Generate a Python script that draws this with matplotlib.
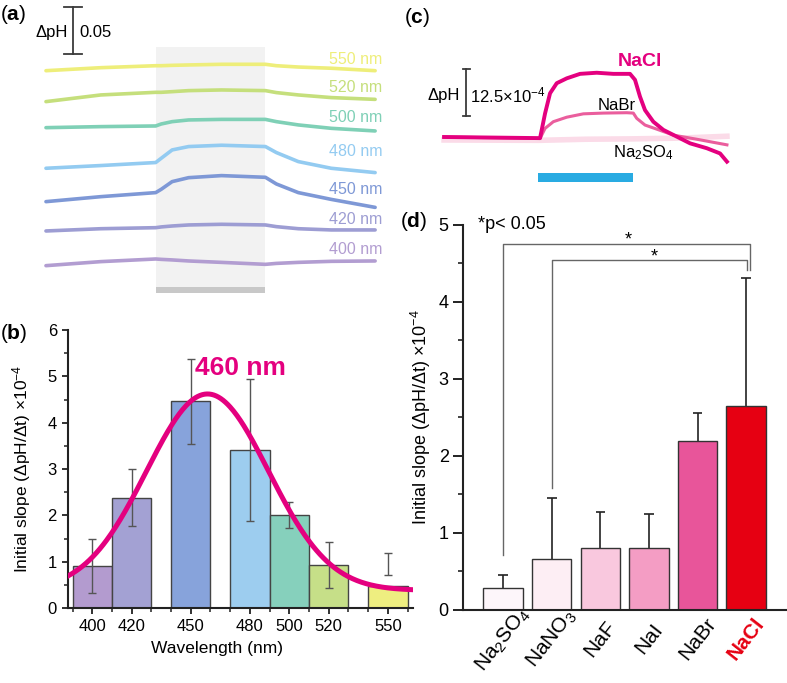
import matplotlib.pyplot as plt
from matplotlib.patches import Rectangle
from matplotlib.ticker import MultipleLocator
from matplotlib.transforms import ScaledTranslation
import numpy as np

plt.rcParams['font.family'] = ['Liberation Sans', 'DejaVu Sans']
plt.rcParams['mathtext.fontset'] = 'custom'
plt.rcParams['mathtext.rm'] = 'Liberation Sans'
plt.rcParams['mathtext.it'] = 'Liberation Sans:italic'
plt.rcParams['mathtext.bf'] = 'Liberation Sans:bold'

# ---- (a) pH change under light of each wavelength (light on 100-200 s)
t_a = [0, 50, 100, 105, 115, 130, 160, 200, 210, 230, 260, 300]
trace_nm = ['550', '520', '500', '480', '450', '420', '400']
trace_colors = ['#EEEE7A', '#C5DF7C', '#7FD0B6', '#93CBF1', '#7E98D6', '#9D9DD3', '#B29DD1']
dph_550 = [0, .0032, .0053, .0053, .0057, .0061, .0068, .0068, .0053, .0039, .0026, 0]
dph_520 = [0, .0071, .0099, .0099, .0106, .0117, .0124, .0117, .0096, .0071, .0043, .0024]
dph_500 = [0, .0011, .0018, .0039, .0064, .0082, .0088, .0088, .0064, .0029, -.0007, -.0035]
dph_480 = [0, .0029, .0061, .0106, .0195, .0231, .0245, .0231, .0167, .0071, 0, -.0046]
dph_450 = [0, .0053, .0096, .0131, .0213, .0255, .0277, .0259, .0188, .0096, .0024, -.0061]
dph_420 = [0, .0024, .0035, .0043, .0053, .0064, .0071, .0064, .0046, .0024, .0011, .0011]
dph_400 = [0, .0043, .0071, .0067, .0061, .0050, .0035, .0014, .0024, .0035, .0046, .0050]
traces_a = [dph_550, dph_520, dph_500, dph_480, dph_450, dph_420, dph_400]
# vertical stacking of the traces and their labels
trace_base = [0.2439, 0.2110, 0.1833, 0.1401, 0.1046, 0.0734, 0.0365]
label_y = [0.2553, 0.2259, 0.1936, 0.1578, 0.1178, 0.0851, 0.0539]

# ---- (b) initial slope vs wavelength
wavelength = [400, 420, 450, 480, 500, 520, 550]
slope_b = [0.90, 2.38, 4.46, 3.41, 2.00, 0.92, 0.47]
err_lo_b = [0.33, 1.76, 3.53, 1.88, 1.72, 0.43, 0.72]
err_hi_b = [1.48, 3.00, 5.38, 4.94, 2.28, 1.42, 1.19]
bar_colors_b = ['#B39BCF', '#A3A1D3', '#87A3DB', '#9DCDEF', '#86D0BC', '#C6DF88', '#EEEE80']
# Gaussian fit
fit_center, fit_sigma, fit_amp, fit_offset = 458.5, 31.0, 4.24, 0.38

# ---- (c) pH traces with different salts (light on 100-200 s), units 1e-4 pH
t_nacl = [0, 101.8, 107.1, 112.4, 119.5, 130.1, 144.2, 161.9, 179.5, 197.2, 202.5, 207.8,
          213.1, 221.9, 232.6, 246.8, 260.9, 278.6, 292.7, 300]
dph_nacl = [0, -0.3, 6.3, 11.7, 14.4, 15.7, 16.9, 17.2, 16.9, 16.9, 15.3, 10.8,
            7.2, 4.1, 1.9, 0.1, -1.7, -3.0, -4.4, -6.6]
t_nabr = [0, 101.8, 107.1, 115.9, 130.1, 147.7, 168.9, 193.7, 200.7, 204.3, 213.1, 225.6,
          243.2, 268.0, 300]
dph_nabr = [0, -0.4, 2.3, 4.1, 5.3, 6.2, 6.4, 6.5, 6.4, 5.0, 3.2, 2.1, 0.5, -0.6, -2.1]
t_na2so4 = [0, 100, 150, 200, 250, 300]
dph_na2so4 = [-0.8, -0.9, -0.6, -0.5, -0.3, 0.2]

# ---- (d) initial slope for each salt
salts = ['Na$_2$SO$_4$', 'NaNO$_3$', 'NaF', 'NaI', 'NaBr', 'NaCl']
slope_d = [0.29, 0.66, 0.80, 0.805, 2.20, 2.65]
err_d = [0.165, 0.80, 0.47, 0.445, 0.36, 1.66]
bar_colors_d = ['#FDF6FA', '#FDEEF4', '#F9C8DE', '#F49DC4', '#E8559A', '#E60012']
# significance brackets: (left bar, right bar, left foot, top, right foot)
brackets = [(0, 5.08, 0.71, 4.75, 4.42), (1, 5.01, 1.58, 4.55, 4.42)]

fig = plt.figure(figsize=(7.87, 6.83), dpi=100)

# ================= (a)
ax_a = fig.add_axes([0, 0.5608, 0.5083, 0.4392])
ax_a.set_xlim(-41.9, 322.7)
ax_a.set_ylim(0, 0.3191)
ax_a.axis('off')
ax_a.add_patch(Rectangle((100, 0.0138), 100, 0.2552, color='#F2F2F2', lw=0, zorder=0))
ax_a.add_patch(Rectangle((100, 0.0074), 100, 0.0064, color='#C8C8C8', lw=0, zorder=0))
for nm, col, d, base, ly in zip(trace_nm, trace_colors, traces_a, trace_base, label_y):
    ax_a.plot(t_a, np.array(d) + base, color=col, lw=2.6, solid_capstyle='round',
              solid_joinstyle='round', zorder=2)
    ax_a.text(306.3, ly, nm + ' nm', color=col, fontsize=11.5, ha='right', va='center')
# scale bar 0.05 pH
ax_a.plot([24.6, 24.6], [0.2617, 0.3117], color='#3a3a3a', lw=1.3)
ax_a.plot([16.4, 32.8], [0.2617, 0.2617], color='#3a3a3a', lw=1.3)
ax_a.plot([16.4, 32.8], [0.3117, 0.3117], color='#3a3a3a', lw=1.3)
ax_a.text(20, 0.284, 'ΔpH', fontsize=12, ha='right', va='center')
ax_a.text(30, 0.284, '0.05', fontsize=12, ha='left', va='center')

# ================= (b)
ax_b = fig.add_axes([0.0864, 0.1098, 0.4384, 0.407])
ax_b.bar(wavelength, slope_b, width=20, color=bar_colors_b, edgecolor='#444444', lw=1, zorder=2)
mid_b = (np.array(err_lo_b) + np.array(err_hi_b)) / 2
half_b = (np.array(err_hi_b) - np.array(err_lo_b)) / 2
ax_b.errorbar(wavelength, mid_b, yerr=half_b, fmt='none', ecolor='#555555', elinewidth=1,
              capsize=2.6, capthick=1, zorder=3)
wl = np.linspace(388, 563, 300)
ax_b.plot(wl, fit_offset + fit_amp * np.exp(-(wl - fit_center) ** 2 / (2 * fit_sigma ** 2)),
          color='#E4007F', lw=3.6, zorder=4)
ax_b.text(452.2, 5.18, '460 nm', color='#E4007F', fontsize=19, fontweight='bold', va='center')
ax_b.set_xlim(387.7, 562.8)
ax_b.set_ylim(0, 6)
ax_b.set_xticks(wavelength)
ax_b.xaxis.set_minor_locator(MultipleLocator(10))
ax_b.yaxis.set_major_locator(MultipleLocator(1))
ax_b.yaxis.set_minor_locator(MultipleLocator(0.5))
for s in ['top', 'right']:
    ax_b.spines[s].set_visible(False)
for s in ['left', 'bottom']:
    ax_b.spines[s].set_linewidth(1.5)
    ax_b.spines[s].set_color('#222222')
ax_b.tick_params(which='major', length=4.5, width=1.3, labelsize=12, color='#222222')
ax_b.tick_params(which='minor', length=2.6, width=1.1, color='#222222')
ax_b.set_xlabel('Wavelength (nm)', fontsize=12.5)
ax_b.set_ylabel('Initial slope (ΔpH/Δt) ×10$^{-4}$', fontsize=12.5)
ax_b.xaxis.set_label_coords(0.431, -0.12)
ax_b.yaxis.set_label_coords(-0.10, 0.5)

# ================= (c)
ax_c = fig.add_axes([0.5083, 0.7218, 0.4917, 0.2782])
ax_c.set_xlim(-46.7, 363.7)
ax_c.set_ylim(-14.19, 36.67)
ax_c.axis('off')
ax_c.plot(t_na2so4, dph_na2so4, color='#FBDBE8', lw=4.0, zorder=1)
ax_c.plot(t_nabr, dph_nabr, color='#EA5E9D', lw=2.2, zorder=2, solid_joinstyle='round')
ax_c.plot(t_nacl, dph_nacl, color='#E4007F', lw=2.8, zorder=3, solid_joinstyle='round')
ax_c.add_patch(Rectangle((100, -12.05), 100, 2.41, color='#29ABE2', lw=0))
ax_c.plot([23.3, 23.3], [5.7, 18.2], color='#3a3a3a', lw=1.3)
ax_c.plot([19.6, 27.0], [5.7, 5.7], color='#3a3a3a', lw=1.3)
ax_c.plot([19.6, 27.0], [18.2, 18.2], color='#3a3a3a', lw=1.3)
ax_c.text(17, 11.2, 'ΔpH', fontsize=12, ha='right', va='center')
ax_c.text(27.6, 11.2, '12.5×10$^{-4}$', fontsize=12, ha='left', va='center')
ax_c.text(207.8, 20.1, 'NaCl', color='#E4007F', fontsize=14, fontweight='bold', ha='center', va='center')
ax_c.text(183, 8.3, 'NaBr', fontsize=12, ha='center', va='center')
ax_c.text(211.6, -4.3, 'Na$_2$SO$_4$', fontsize=12, ha='center', va='center')

# ================= (d)
ax_d = fig.add_axes([0.5887, 0.1069, 0.4113, 0.5637])
xd = np.arange(len(salts))
ax_d.bar(xd, slope_d, width=0.81, color=bar_colors_d, edgecolor='#333333', lw=1, zorder=2)
top_d = np.array(slope_d) + np.array(err_d)
ax_d.vlines(xd, slope_d, top_d, color='#222222', lw=1.2, zorder=1)
ax_d.hlines(top_d, xd - 0.1, xd + 0.1, color='#222222', lw=1.2, zorder=1)
for x0, x1, y0, ytop, y1 in brackets:
    ax_d.plot([x0, x0, x1, x1], [y0, ytop, ytop, y1], color='#666666', lw=1)
ax_d.text(2.57, 4.80, '*', fontsize=13, ha='center', va='center')
ax_d.text(3.10, 4.58, '*', fontsize=13, ha='center', va='center')
ax_d.text(-0.52, 5.0, '*p< 0.05', fontsize=13, ha='left', va='center')
ax_d.set_xlim(-0.82, 5.84)
ax_d.set_ylim(0, 5)
ax_d.set_xticks(xd)
ax_d.set_xticklabels(salts, rotation=52, ha='center', va='center', rotation_mode='anchor',
                     fontsize=15)
shift = ScaledTranslation(-0.06, 0, fig.dpi_scale_trans)
for lab in ax_d.get_xticklabels():
    lab.set_transform(lab.get_transform() + shift)
lab = ax_d.get_xticklabels()[-1]
lab.set_color('#E60012')
lab.set_fontweight('bold')
ax_d.yaxis.set_major_locator(MultipleLocator(1))
ax_d.yaxis.set_minor_locator(MultipleLocator(0.5))
for s in ['top', 'right']:
    ax_d.spines[s].set_visible(False)
for s in ['left', 'bottom']:
    ax_d.spines[s].set_linewidth(1.5)
    ax_d.spines[s].set_color('#222222')
ax_d.tick_params(axis='x', length=0, pad=21)
ax_d.tick_params(axis='y', which='major', length=7, width=1.4, labelsize=13, color='#222222')
ax_d.tick_params(axis='y', which='minor', length=3.6, width=1.2, color='#222222')
ax_d.set_ylabel('Initial slope (ΔpH/Δt) ×10$^{-4}$', fontsize=13)
ax_d.yaxis.set_label_coords(-0.095, 0.5)

# panel letters
for x, y, s in [(0.0, 0.979, 'a'), (0.0, 0.512, 'b'), (0.513, 0.975, 'c'), (0.508, 0.675, 'd')]:
    fig.text(x, y, '($\\bf{%s}$)' % s, fontsize=15, ha='left', va='center')

fig.savefig('out.png', dpi=100)
